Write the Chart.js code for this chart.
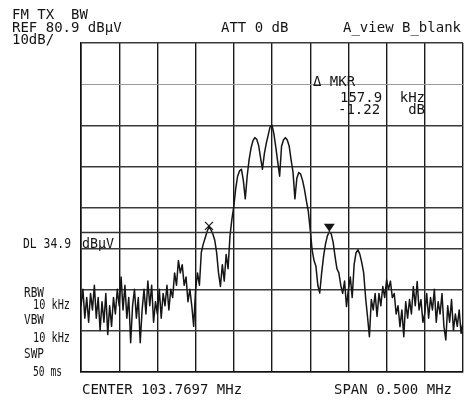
<!DOCTYPE html>
<html>
<head>
<meta charset="utf-8">
<script src="https://cdn.jsdelivr.net/npm/chart.js@4.4.1/dist/chart.umd.min.js"></script>
<style>
  html, body { margin: 0; padding: 0; background: #fff; }
</style>
</head>
<body>
<canvas id="spec" width="465" height="402"></canvas>
<script>
// Sweep: 201 points, -250 .. +250 kHz around centre, level in dBuV
const startKHz = -250;
const stepKHz = 2.5;
const level = [
    17, 21, 14, 19, 13, 20, 16, 22, 14, 19,
    11, 18, 13, 20, 10, 17, 12, 19, 15, 21,
    17, 24, 16, 22, 14, 19, 8, 17, 21, 14,
    19, 8, 16, 21, 15, 23, 17, 22, 13, 18,
    15, 21, 14, 20, 17, 22, 16, 21, 19, 25,
    22, 28, 25, 27, 22, 24, 18, 21, 17, 12,
    21, 25, 22, 30, 32, 33.5, 35, 36.2, 35.5, 34.5,
    33, 30, 25, 21.7, 27, 23, 29.5, 26, 34, 38,
    41.2, 45.5, 48.5, 49.8, 50.2, 47.5, 43, 48.5, 52.5, 55.3,
    57.1, 57.9, 57.5, 56, 53, 50.2, 54, 56.5, 58.5, 60.5,
    60.9, 58.8, 55.5, 52, 48.5, 55.8, 57.3, 57.9, 57.3, 55.8,
    52.5, 49.5, 43, 48, 49.4, 49, 47.5, 45.3, 42.5, 40,
    35.5, 30.6, 28, 26.6, 22, 20.1, 25, 29, 32, 34,
    35, 34.5, 32.5, 29, 26, 25, 22, 20, 23, 16.8,
    21, 24, 19, 27, 29.9, 30.6, 29.5, 27.5, 25, 19,
    14.4, 9.5, 18.5, 16, 20, 14.4, 20, 17, 21.7, 19,
    23.3, 21, 23, 19, 20, 15, 17, 11.9, 16, 9.5,
    18, 14, 18.5, 15, 21.7, 17, 22.9, 16, 18.5, 13,
    15.2, 20, 14, 19, 16, 21, 13, 18, 15, 20,
    12, 8.7, 17, 13, 18.5, 11, 15, 12, 16, 10.3,
    13
];

const xTicks = [-250, -200, -150, -100, -50, 0, 50, 100, 150, 200, 250];
const yTicks = [0.9, 10.9, 20.9, 30.9, 40.9, 50.9, 60.9, 70.9, 80.9];
const dlLevel = 34.9;
const markerIdx = [67, 130]; // X marker, delta marker

const topLines = ['FM TX  BW', 'REF 80.9 dBμV', 'ATT 0 dB', 'A_view B_blank', '10dB/'];
const mkrLines = ['Δ MKR', '157.9', 'kHz', '-1.22', 'dB'];
const sideLines = ['DL 34.9', 'dBμV', 'RBW', '10 kHz', 'VBW', '10 kHz', 'SWP', '50 ms'];
const bottomLines = ['CENTER 103.7697 MHz', 'SPAN 0.500 MHz'];

const trace = level.map((v, i) => ({ x: startKHz + i * stepKHz, y: v }));

const INK = '#151515';
const FONT = '14px "DejaVu Sans Mono"';

// Display line, markers and all the screen annotations
const overlay = {
    id: 'overlay',
    afterDatasetsDraw(chart) {
        const { ctx, chartArea: a, scales: { x, y } } = chart;
        ctx.save();

        // DL line
        const dy = Math.round(y.getPixelForValue(dlLevel)) + 0.5;
        ctx.strokeStyle = '#333';
        ctx.lineWidth = 1.3;
        ctx.beginPath();
        ctx.moveTo(a.left, dy);
        ctx.lineTo(a.right, dy);
        ctx.stroke();

        // markers
        ctx.strokeStyle = INK;
        ctx.fillStyle = INK;
        ctx.lineWidth = 1.2;
        const p0 = trace[markerIdx[0]];
        const mx = x.getPixelForValue(p0.x), my = y.getPixelForValue(p0.y) - 1;
        ctx.beginPath();
        ctx.moveTo(mx - 4, my - 4); ctx.lineTo(mx + 4, my + 4);
        ctx.moveTo(mx + 4, my - 4); ctx.lineTo(mx - 4, my + 4);
        ctx.stroke();
        const p1 = trace[markerIdx[1]];
        const tx = x.getPixelForValue(p1.x), ty = y.getPixelForValue(p1.y);
        ctx.beginPath();
        ctx.moveTo(tx, ty);
        ctx.lineTo(tx - 5.5, ty - 8);
        ctx.lineTo(tx + 5.5, ty - 8);
        ctx.closePath();
        ctx.fill();

        // text
        ctx.font = FONT;
        ctx.textBaseline = 'alphabetic';
        ctx.textAlign = 'left';
        ctx.fillText(topLines[0], 12, 18.5);
        ctx.fillText(topLines[1], 12, 31.5);
        ctx.fillText(topLines[2], 221, 31.5);
        ctx.fillText(topLines[3], 343, 31.5);
        ctx.fillText(topLines[4], 12, 44);

        ctx.fillText(mkrLines[0], 313, 86);
        ctx.fillText(mkrLines[1], 340, 101.5);
        ctx.fillText(mkrLines[3], 338, 113.5);
        ctx.textAlign = 'right';
        ctx.fillText(mkrLines[2], 425, 101.5);
        ctx.fillText(mkrLines[4], 425, 113.5);
        ctx.textAlign = 'left';

        ctx.fillText(sideLines[0], 23, 248, 48);
        ctx.fillText(sideLines[1], 82, 248, 32);
        ctx.fillText(sideLines[2], 24, 297, 20);
        ctx.fillText(sideLines[3], 33, 309, 37);
        ctx.fillText(sideLines[4], 24, 324, 20);
        ctx.fillText(sideLines[5], 33, 341.5, 37);
        ctx.fillText(sideLines[6], 24, 358, 20);
        ctx.fillText(sideLines[7], 33, 376, 29);

        ctx.fillText(bottomLines[0], 82, 393.5);
        ctx.fillText(bottomLines[1], 334, 393.5);
        ctx.restore();
    }
};

new Chart(document.getElementById('spec'), {
    type: 'line',
    data: {
        datasets: [{
            data: trace,
            borderColor: INK,
            borderWidth: 1.5,
            borderJoinStyle: 'round',
            pointRadius: 0,
            tension: 0,
            fill: false
        }]
    },
    options: {
        responsive: false,
        animation: false,
        events: [],
        layout: { padding: { left: 81, right: 2, top: 43, bottom: 30 } },
        plugins: { legend: { display: false }, tooltip: { enabled: false } },
        scales: {
            x: {
                type: 'linear',
                min: xTicks[0],
                max: xTicks[xTicks.length - 1],
                afterBuildTicks: s => { s.ticks = xTicks.map(v => ({ value: v })); },
                ticks: { display: false },
                grid: { color: '#1a1a1a', lineWidth: 1.4, drawTicks: false },
                border: { display: true, color: '#111', width: 1.6 }
            },
            y: {
                type: 'linear',
                min: yTicks[0],
                max: yTicks[yTicks.length - 1],
                afterBuildTicks: s => { s.ticks = yTicks.map(v => ({ value: v })); },
                ticks: { display: false },
                grid: {
                    color: c => (c.tick && c.tick.value === 70.9) ? '#9a9a9a' : '#3a3a3a',
                    lineWidth: c => (c.tick && c.tick.value === 70.9) ? 1 : 1.4,
                    drawTicks: false
                },
                border: { display: true, color: '#111', width: 1.6 }
            }
        }
    },
    plugins: [overlay]
});
</script>
</body>
</html>
